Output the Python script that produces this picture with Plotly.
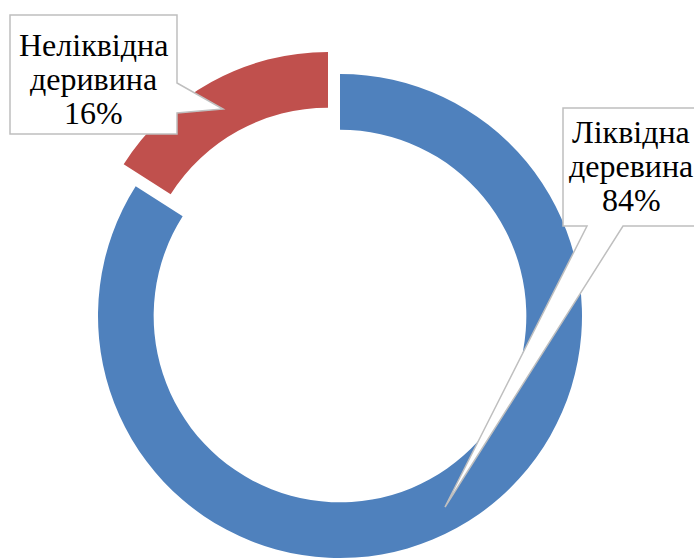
import plotly.graph_objects as go

# ---- data ----
labels = ["Ліквідна деревина", "Неліквідна деривина"]
values = [84, 16]
colors = ["#4F81BD", "#C0504D"]

W, H = 694, 559


def px(x):
    return x / W


def py(y):
    return 1 - y / H


# donut geometry (pixels)
cx, cy, r = 340, 316, 242
hole = 0.77
pull_dx, pull_dy = -12, -22  # offset of the exploded slice

total = sum(values)
pcts = [round(v * 100 / total) for v in values]

fig = go.Figure()


def dom(dx, dy):
    return dict(x=[px(cx - r + dx), px(cx + r + dx)],
                y=[py(cy + r + dy), py(cy - r + dy)])


# main slice (blue), exploded slice invisible
fig.add_trace(go.Pie(
    labels=labels, values=values, sort=False, direction="clockwise", rotation=0,
    hole=hole, textinfo="none", hoverinfo="label+percent", showlegend=False,
    marker=dict(colors=[colors[0], "rgba(0,0,0,0)"], line=dict(width=0)),
    domain=dom(0, 0),
))
# exploded slice (red)
fig.add_trace(go.Pie(
    labels=labels, values=values, sort=False, direction="clockwise", rotation=0,
    hole=hole, textinfo="none", hoverinfo="label+percent", showlegend=False,
    marker=dict(colors=["rgba(0,0,0,0)", colors[1]], line=dict(width=0)),
    domain=dom(pull_dx, pull_dy),
))


def path(points):
    return "M " + " L ".join(f"{px(x):.5f},{py(y):.5f}" for x, y in points) + " Z"


callout_left = [(10, 15), (177, 15), (177, 83), (223, 109), (177, 113), (177, 134), (10, 134)]
callout_right = [(563, 108), (705, 108), (705, 226), (623, 226), (445, 507), (587, 226), (563, 226)]

shapes = []
for pts in (callout_left, callout_right):
    shapes.append(dict(type="path", path=path(pts), xref="paper", yref="paper",
                       fillcolor="white", line=dict(color="#BFBFBF", width=1.5),
                       layer="above"))


def label_lines(i):
    return labels[i].split(" ") + [f"{pcts[i]}%"]


FS = 32
font = dict(family="Liberation Serif, Times New Roman, serif", size=FS, color="black")
line_gap = 34
# (label index, text centre x, first baseline y)
label_pos = [(1, 93, 56), (0, 631, 143)]

annotations = []
for idx, xc, base0 in label_pos:
    for k, line in enumerate(label_lines(idx)):
        base = base0 + k * line_gap
        annotations.append(dict(
            text=line, x=px(xc), y=py(base - 0.34 * FS), xref="paper", yref="paper",
            showarrow=False, xanchor="center", yanchor="middle", font=font,
        ))

fig.update_layout(
    width=W, height=H,
    margin=dict(l=0, r=0, t=0, b=0),
    paper_bgcolor="white", plot_bgcolor="white",
    shapes=shapes, annotations=annotations,
    showlegend=False,
)

fig.write_html("out.html", config={"displayModeBar": False},
               post_script="document.body.style.margin='0';")
